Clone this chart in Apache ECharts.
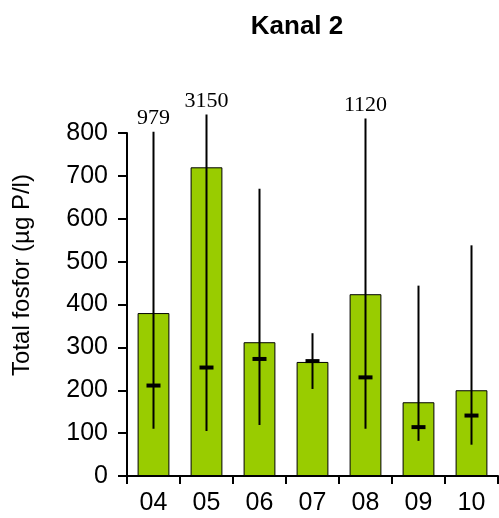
<!DOCTYPE html>
<html>
<head>
<meta charset="utf-8">
<script src="https://cdn.jsdelivr.net/npm/echarts@6/dist/echarts.min.js"></script>
<style>
  html, body { margin: 0; padding: 0; background: #fff; }
  #chart { width: 499px; height: 518px; }
</style>
</head>
<body>
<div id="chart"></div>
<script>
// Data
const categories = ['04', '05', '06', '07', '08', '09', '10'];
const means      = [380, 720, 312, 266, 424, 172, 200];
const medians    = [211, 253, 273, 268, 230, 114, 141];
const mins       = [110, 105, 119, 203, 110, 82, 73];
const maxs       = [979, 3150, 670, 333, 1120, 444, 538];
// whisker tops as drawn (off-scale maxima are cut just above the axis)
const shownTops  = [803, 843, 670, 333, 834, 444, 538];
const yTicks     = [0, 100, 200, 300, 400, 500, 600, 700, 800];
const axisMax    = 800;

const chart = echarts.init(document.getElementById('chart'), null, { renderer: 'canvas' });

const whiskerData = categories.map((c, i) => [i, mins[i], shownTops[i], medians[i], maxs[i]]);

const option = {
  backgroundColor: '#ffffff',
  animation: false,
  title: {
    text: 'Kanal 2',
    left: 292,
    top: 9,
    textAlign: 'center',
    textStyle: {
      fontFamily: 'Liberation Sans, Arial, sans-serif',
      fontWeight: 'bold',
      fontSize: 26,
      color: '#000'
    }
  },
  grid: { left: 127, right: 1, top: 133, bottom: 42, containLabel: false },
  xAxis: {
    type: 'category',
    data: categories,
    boundaryGap: true,
    axisLine: { show: true, lineStyle: { color: '#000', width: 2 } },
    axisTick: { show: true, length: 8, lineStyle: { color: '#000', width: 2 } },
    axisLabel: {
      margin: 15,
      fontFamily: 'Liberation Sans, Arial, sans-serif',
      fontSize: 25,
      color: '#000'
    },
    splitLine: { show: false }
  },
  yAxis: {
    type: 'value',
    min: yTicks[0],
    max: axisMax,
    interval: 100,
    axisLine: { show: true, lineStyle: { color: '#000', width: 2 } },
    axisTick: { show: true, length: 9, lineStyle: { color: '#000', width: 2 } },
    axisLabel: {
      margin: 19,
      fontFamily: 'Liberation Sans, Arial, sans-serif',
      fontSize: 25,
      color: '#000'
    },
    splitLine: { show: false }
  },
  graphic: [{
    type: 'text',
    x: 22,
    y: 275,
    rotation: Math.PI / 2,
    style: {
      text: 'Total fosfor (µg P/l)',
      align: 'center',
      verticalAlign: 'middle',
      fontFamily: 'Liberation Sans, Arial, sans-serif',
      fontSize: 24,
      fill: '#000'
    }
  }],
  series: [
    {
      type: 'bar',
      data: means,
      barCategoryGap: '40%',
      itemStyle: { color: '#99cc00', borderColor: '#000', borderWidth: 1 },
      z: 2
    },
    {
      type: 'custom',
      data: whiskerData,
      clip: false,
      z: 3,
      renderItem: function (params, api) {
        const i = api.value(0);
        const pMin = api.coord([i, api.value(1)]);
        const pTop = api.coord([i, api.value(2)]);
        const pMed = api.coord([i, api.value(3)]);
        const maxVal = api.value(4);
        const children = [
          {
            type: 'line',
            shape: { x1: pMin[0], y1: pMin[1], x2: pTop[0], y2: pTop[1] },
            style: { stroke: '#000', lineWidth: 2 }
          },
          {
            type: 'rect',
            shape: { x: pMed[0] - 7, y: pMed[1] - 2, width: 14, height: 4 },
            style: { fill: '#000' }
          }
        ];
        if (maxVal > axisMax) {
          children.push({
            type: 'text',
            style: {
              text: String(maxVal),
              x: pTop[0],
              y: pTop[1] - 2,
              align: 'center',
              verticalAlign: 'bottom',
              fontFamily: 'Liberation Serif, Times New Roman, serif',
              fontSize: 22,
              fill: '#000'
            }
          });
        }
        return { type: 'group', children: children };
      }
    }
  ]
};

chart.setOption(option);
</script>
</body>
</html>
